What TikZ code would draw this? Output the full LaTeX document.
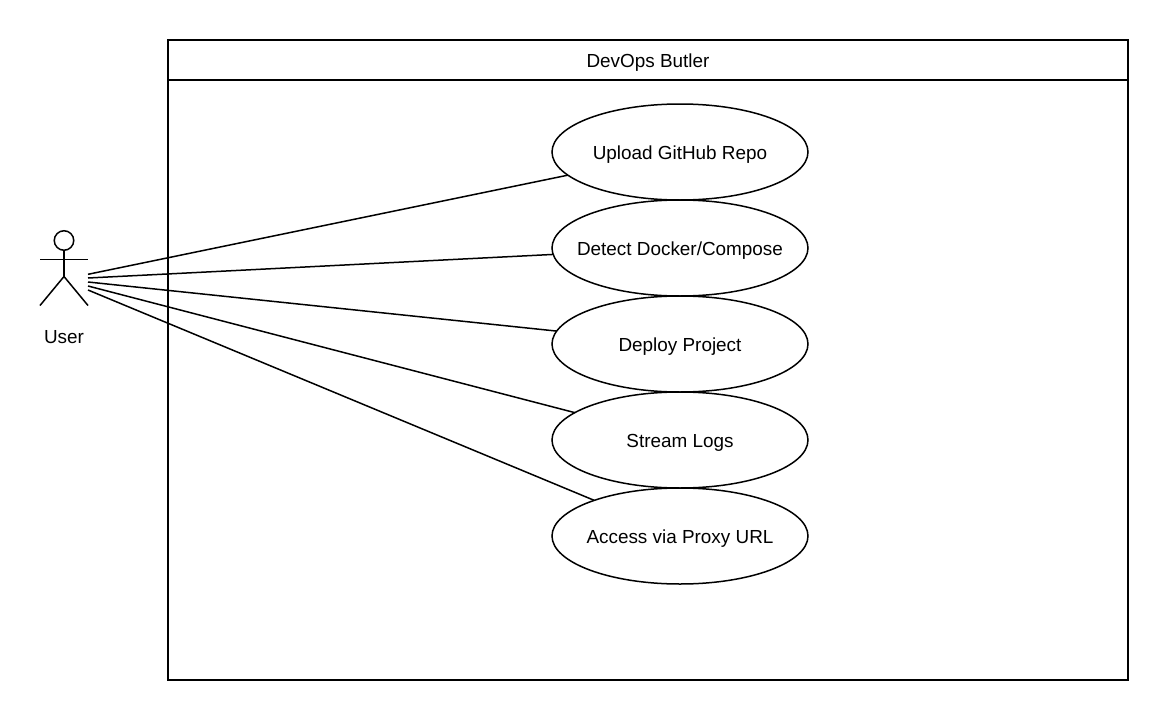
\documentclass[tikz,border=0pt]{standalone}
\usepackage{fontspec}
\setmainfont{Liberation Sans}
\usetikzlibrary{shapes.geometric}
\newcommand{\uctext}[1]{\makebox[0pt][c]{#1}}
\tikzset{
  usecase/.style={ellipse,draw=black,fill=white,line width=1.5pt,minimum width=256pt,minimum height=96pt,inner sep=0pt,outer sep=0pt,font=\fontsize{18.9}{22}\selectfont,text height=14pt,text depth=0pt},
  link/.style={draw=black,line width=1.5pt},
  frameline/.style={draw=black,line width=2pt},
  lbl/.style={inner sep=0pt,outer sep=0pt,font=\fontsize{18.9}{22}\selectfont,anchor=center,text height=14pt,text depth=0pt}
}
\begin{document}
\begin{tikzpicture}[x=1pt,y=-1pt]
\useasboundingbox (0,0) rectangle (1168,720);
\fill[white] (0,0) rectangle (1168,720);
% actor
\node[circle,draw=black,line width=1.5pt,minimum size=19.5pt,inner sep=0pt,outer sep=0pt] (head) at (64,240.5) {};
\coordinate (hip) at (64,276.5);
\coordinate (armL) at (40,259.5);
\coordinate (armR) at (88,259.5);
\coordinate (legL) at (40,305.5);
\coordinate (legR) at (88,305.5);
\draw[link] (head.south) -- (hip);
\draw[link] (armL) -- (armR);
\draw[link] (legL) -- (hip) -- (legR);
\node[lbl] (user) at (64,336) {User};
\coordinate (u1) at (88,274.3);
\coordinate (u2) at (88,278);
\coordinate (u3) at (88,282);
\coordinate (u4) at (88,286);
\coordinate (u5) at (88,290);
% system frame
\node[rectangle,frameline,minimum width=960pt,minimum height=640pt,inner sep=0pt,outer sep=0pt] (sys) at (648,360) {};
\coordinate (hl) at (168,80);
\coordinate (hr) at (1128,80);
\draw[frameline] (hl) -- (hr);
\node[lbl] (title) at (648,60) {DevOps Butler};
% use cases
\node[usecase] (e1) at (680,152) {\uctext{Upload GitHub Repo}};
\node[usecase] (e2) at (680,248) {\uctext{Detect Docker/Compose}};
\node[usecase] (e3) at (680,344) {\uctext{Deploy Project}};
\node[usecase] (e4) at (680,440) {\uctext{Stream Logs}};
\node[usecase] (e5) at (680,536) {\uctext{Access via Proxy URL}};
% connectors
\draw[link] (u1) -- (e1);
\draw[link] (u2) -- (e2);
\draw[link] (u3) -- (e3);
\draw[link] (u4) -- (e4);
\draw[link] (u5) -- (e5);
\end{tikzpicture}
\end{document}
